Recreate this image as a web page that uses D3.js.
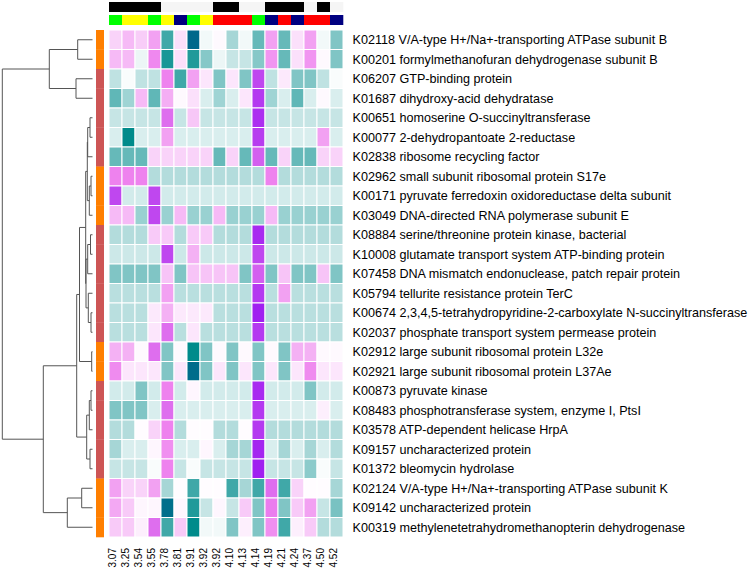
<!DOCTYPE html>
<html><head><meta charset="utf-8">
<script src="https://cdn.jsdelivr.net/npm/d3@7"></script>
<style>body{margin:0;background:#fff}svg{display:block}text{font-family:"Liberation Sans",Arial,sans-serif}</style>
</head><body><svg id="c" width="750" height="573"></svg>
<script>
const columns = ["3.07","3.25","3.54","3.55","3.78","3.81","3.91","3.92","3.92","4.10","4.13","4.14","4.19","4.21","4.24","4.37","4.50","4.52"];
const colGroup1 = ["A","A","A","A","B","B","B","B","A","A","B","B","A","A","A","B","A","B"];
const colGroup2 = ["g","y","y","g","y","n","g","y","r","r","r","g","n","r","n","r","r","n"];
const rowLabels = [
"K02118 V/A-type H+/Na+-transporting ATPase subunit B",
"K00201 formylmethanofuran dehydrogenase subunit B",
"K06207 GTP-binding protein",
"K01687 dihydroxy-acid dehydratase",
"K00651 homoserine O-succinyltransferase",
"K00077 2-dehydropantoate 2-reductase",
"K02838 ribosome recycling factor",
"K02962 small subunit ribosomal protein S17e",
"K00171 pyruvate ferredoxin oxidoreductase delta subunit",
"K03049 DNA-directed RNA polymerase subunit E",
"K08884 serine/threonine protein kinase, bacterial",
"K10008 glutamate transport system ATP-binding protein",
"K07458 DNA mismatch endonuclease, patch repair protein",
"K05794 tellurite resistance protein TerC",
"K00674 2,3,4,5-tetrahydropyridine-2-carboxylate N-succinyltransferase",
"K02037 phosphate transport system permease protein",
"K02912 large subunit ribosomal protein L32e",
"K02921 large subunit ribosomal protein L37Ae",
"K00873 pyruvate kinase",
"K08483 phosphotransferase system, enzyme I, PtsI",
"K03578 ATP-dependent helicase HrpA",
"K09157 uncharacterized protein",
"K01372 bleomycin hydrolase",
"K02124 V/A-type H+/Na+-transporting ATPase subunit K",
"K09142 uncharacterized protein",
"K00319 methylenetetrahydromethanopterin dehydrogenase"];
const rowGroup = ["o","o","r","r","r","r","r","o","o","o","r","r","r","r","r","r","o","o","r","r","r","r","r","o","o","o"];
const values = [
[0.7,1.1,0.8,1.5,-1.5,0.5,-3,-0.1,0.1,-0.7,-0.1,-1.2,1.5,-1.2,0.5,1.5,-0.1,-1.0],
[1.1,1.1,-0.15,1.9,-1.8,0.5,-1.75,-0.95,-0.15,-0.45,-0.45,-0.95,1.7,-1.2,0.5,1.7,0.1,-1.0],
[-0.5,-0.05,-0.5,-0.5,2.0,-1.5,1.5,0.4,-1.0,0.4,-1.0,2.6,-0.5,0.35,-1.0,-1.0,-0.5,-0.05],
[-1.25,-0.75,1.1,-1.25,1.3,0.1,0.5,-0.3,-0.75,-0.3,0.4,2.75,-0.75,-0.3,-1.25,-0.3,0.1,-0.3],
[-0.45,-0.45,-0.45,-0.45,2.2,-0.45,0.9,-0.45,-0.45,-0.45,-0.45,2.85,-0.45,-0.45,-0.45,-0.45,-0.45,-0.45],
[-0.3,-2.0,-0.3,-0.3,1.5,-0.3,-0.3,-0.3,-0.3,-0.3,-0.3,2.7,-0.3,-0.3,-0.3,-0.3,1.5,-0.3],
[-1.2,-1.2,-1.2,0.7,0.7,0.7,0.7,0.7,-1.2,0.7,-1.2,2.35,-1.2,0.7,-1.2,-1.2,0.7,0.7],
[2.0,2.0,2.0,-0.6,-0.6,-0.6,-0.6,-0.6,-0.6,-0.6,-0.6,-0.6,2.0,-0.6,-0.6,-0.6,-0.6,-0.6],
[2.6,-0.35,-0.35,2.6,-0.35,-0.35,-0.35,-0.35,-0.35,-0.35,-0.35,-0.35,-0.35,-0.35,-0.35,-0.35,-0.35,-0.35],
[1.1,1.1,-0.8,2.6,-0.8,1.1,-0.8,-0.8,1.1,-0.8,-0.8,-0.8,1.1,-0.8,-0.8,-0.8,-0.8,-0.8],
[-0.6,-0.6,-0.6,0.85,0.85,-0.6,0.85,0.85,-0.6,-0.6,-0.6,2.9,-0.6,-0.6,-0.6,-0.6,-0.6,-0.6],
[-0.4,-0.4,-0.4,-0.4,2.6,-0.4,1.25,-0.4,-0.4,-0.4,-0.4,2.6,-0.4,-0.4,-0.4,-0.4,-0.4,-0.4],
[-1.0,-1.0,-1.0,-1.0,0.95,-1.0,0.95,0.95,0.95,0.95,-1.0,2.35,-1.0,0.95,-1.0,-1.0,0.95,-1.0],
[-0.55,-0.55,-0.55,-0.55,1.5,-0.55,-0.55,-0.55,-0.55,-0.55,-0.55,2.75,-0.55,1.5,-0.55,-0.55,-0.55,-0.55],
[-0.55,-0.55,-0.55,0.35,1.25,0.35,0.35,0.35,-0.55,-0.55,-0.55,3.0,-0.55,-0.55,-0.55,-0.55,-0.55,-0.55],
[-0.55,-0.55,-0.55,0.4,2.2,-0.55,0.4,-0.55,-0.55,-0.55,-0.55,2.75,-0.55,-0.55,-0.55,-0.55,-0.55,-0.55],
[1.25,1.25,0.1,2.2,-1.0,0.1,-2.0,-1.0,0.1,-1.0,0.1,-1.0,0.1,-1.0,1.25,1.25,0.1,0.1],
[1.85,0.4,0.4,0.4,-1.0,0.4,-2.9,-1.0,0.4,-1.0,0.4,-1.0,0.4,-1.0,0.4,1.85,0.4,0.4],
[-0.35,-0.35,-1.0,-0.35,2.0,-0.35,0.15,-0.35,-0.35,-0.35,-0.35,2.9,-0.35,-0.35,-0.35,-1.0,-0.35,-0.35],
[-1.0,-1.0,-1.0,-0.3,2.2,-0.3,-0.3,-0.3,-0.3,-0.3,-0.3,2.75,-0.3,-0.3,-0.3,-0.3,0.25,-0.3],
[-0.6,-0.6,0.05,0.7,2.0,-0.6,0.05,0.05,-0.6,-0.6,0.05,2.75,-0.6,-0.6,-0.6,-0.6,-0.6,-0.6],
[-0.7,-0.3,-0.3,0.15,1.8,-0.3,-0.3,0.15,-0.3,-0.7,-0.7,2.95,-0.3,-0.7,-0.3,-0.7,-0.3,-0.6],
[-0.45,-0.45,-0.45,-0.05,2.0,-0.45,-0.05,-0.45,-0.45,-0.45,-0.45,3.0,-0.45,-0.45,-0.45,-0.9,-0.05,-0.45],
[1.5,0.7,0.7,1.5,-0.7,0.05,-1.5,0.05,0.05,-1.5,-0.7,-1.5,2.2,-1.5,0.7,0.05,0.05,-0.7],
[1.4,0.85,0.15,0.15,-2.8,0.15,-1.75,-0.45,0.15,-0.45,0.85,-1.0,2.05,-1.0,0.85,1.5,-0.45,-1.05],
[0.85,0.85,0.25,2.2,-1.5,0.85,-2.0,-0.1,-0.1,-1.0,0.25,-1.0,1.8,-1.5,0.25,0.85,-0.6,-0.6]];
// row dendrogram: leaves are row indices, h = merge height
const rowTree = {h:90.2,c:[
  {h:43.2,c:[{h:14.8,c:[0,1]},{h:16.5,c:[2,3]}]},
  {h:49.2,c:[
    {h:15.8,c:[
      {h:13,c:[
        {h:6.8,c:[
          {h:5.2,c:[{h:4.8,c:[{h:2.5,c:[4,5]},6]},{h:3.2,c:[{h:1.5,c:[7,8]},9]}]},
          {h:6.5,c:[{h:4.8,c:[{h:2.0,c:[10,11]},12]},{h:4.2,c:[13,{h:1.5,c:[14,15]}]}]}
        ]},
        {h:0.8,c:[16,17]}
      ]},
      {h:5.8,c:[{h:3.2,c:[{h:1.5,c:[18,19]},20]},{h:2.5,c:[21,22]}]}
    ]},
    {h:25.2,c:[{h:10.8,c:[23,24]},25]}
  ]}
]};

(function(){
const svg = d3.select("#c");
const hmLeft = 109, hmTop = 30, cw = 13, ch = 19.5;
const x = d3.scaleBand().domain(d3.range(columns.length)).range([hmLeft, hmLeft + cw*columns.length]);
const y = d3.scaleBand().domain(d3.range(rowLabels.length)).range([hmTop, hmTop + ch*rowLabels.length]);
const color = d3.scaleLinear().domain([-3,-2,0,2,3]).range(["#00688B","#008B8B","#FFFFFF","#EE82EE","#A020F0"]).clamp(true);
const g1c = {A:"#000000",B:"#F5F5F5"};
const g2c = {g:"#00FF00",y:"#FFFF00",n:"#000080",r:"#FF0000"};
const rgc = {o:"#FF7F00",r:"#CD5555"};

svg.append("g").selectAll("rect").data(colGroup1).join("rect")
  .attr("x",(d,i)=>x(i)).attr("y",2).attr("width",x.bandwidth()+0.3).attr("height",10).attr("fill",d=>g1c[d]);
svg.append("g").selectAll("rect").data(colGroup2).join("rect")
  .attr("x",(d,i)=>x(i)).attr("y",15).attr("width",x.bandwidth()+0.3).attr("height",10).attr("fill",d=>g2c[d]);
svg.append("g").selectAll("rect").data(rowGroup).join("rect")
  .attr("x",96).attr("y",(d,i)=>y(i)).attr("width",8).attr("height",y.bandwidth()+0.3).attr("fill",d=>rgc[d]);
const cells = [];
values.forEach((r,i)=>r.forEach((v,j)=>cells.push({i,j,v})));
svg.append("g").selectAll("rect").data(cells).join("rect")
  .attr("x",d=>x(d.j)).attr("y",d=>y(d.i)).attr("width",x.bandwidth()).attr("height",y.bandwidth())
  .attr("fill",d=>color(d.v)).attr("stroke","#ffffff").attr("stroke-width",1);
svg.append("g").selectAll("text").data(rowLabels).join("text")
  .attr("x",352.5).attr("y",(d,i)=>y(i)+y.bandwidth()/2).attr("dy","0.35em")
  .attr("font-size",12.6).attr("fill","#000").text(d=>d);
svg.append("g").selectAll("text").data(columns).join("text")
  .attr("transform",(d,i)=>`translate(${x(i)+cw/2+0.5},548) rotate(-90)`)
  .attr("text-anchor","end").attr("font-size",10).attr("fill","#000").text(d=>d);
const root = d3.hierarchy(rowTree, d => typeof d === "number" ? null : d.c);
const hx = d3.scaleLinear().domain([0, rowTree.h]).range([92.5, 2.3]);
root.eachAfter(n=>{
  if(!n.children){ n.py = y(n.data)+ch/2; n.px = hx(0);} 
  else { n.py = d3.mean(n.children,c=>c.py); n.px = hx(n.data.h); }
});
const dg = svg.append("g").attr("fill","none").attr("stroke","#555555").attr("stroke-width",1);
root.each(n=>{
  if(!n.children) return;
  const ys = n.children.map(c=>c.py);
  dg.append("path").attr("d",`M${n.px},${d3.min(ys)}V${d3.max(ys)}`);
  n.children.forEach(c=>dg.append("path").attr("d",`M${n.px},${c.py}H${c.px}`));
});
})();
</script></body></html>
